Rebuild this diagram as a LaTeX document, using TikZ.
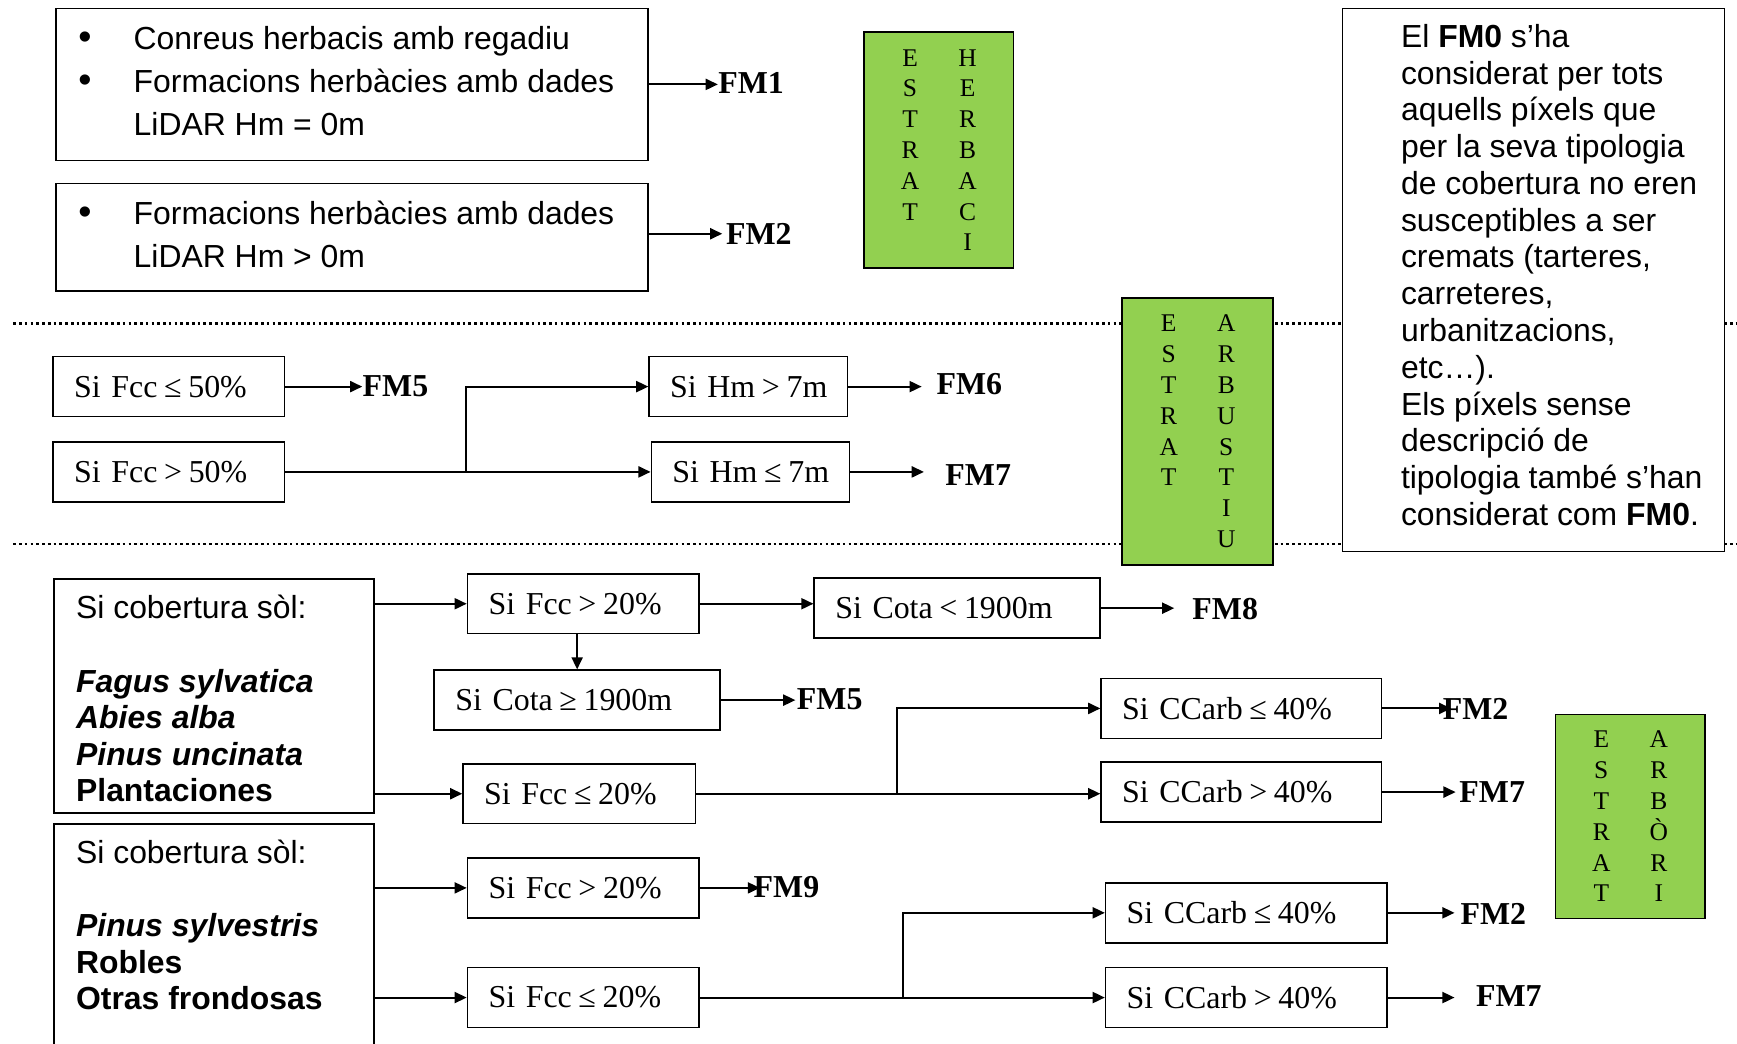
\documentclass[tikz,border=0pt]{standalone}
\usepackage{fontspec}
\setmainfont{Liberation Serif}
\newfontfamily\arialf{Liberation Sans}
\usetikzlibrary{arrows.meta}
\definecolor{grn}{RGB}{146,208,80}
\tikzset{
  cond/.style={draw, line width=0.7pt, inner xsep=9.5pt, inner ysep=0pt, minimum height=27pt, align=left, font=\fontsize{14.4}{17}\selectfont},
  fm/.style={anchor=west, inner sep=0pt, font=\fontsize{14.4}{17}\selectfont\bfseries},
  arr/.style={line width=0.9pt, -{Triangle[length=5.5pt,width=5pt]}},
  ln/.style={line width=0.9pt},
  textbox/.style={draw, line width=0.7pt, inner sep=0pt, anchor=north west, font=\arialf},
  strat/.style={draw, line width=0.7pt, fill=grn, align=center, inner sep=0pt, font=\fontsize{11.5}{13.9}\selectfont},
  dotsep/.style={line width=1.2pt, dash pattern=on 1.2pt off 1.4pt},
}
\newcommand{\lt}[2]{\makebox[10pt]{#1}\hspace{16pt}\makebox[10pt]{#2}}
\newcommand{\rel}[1]{\hspace{3pt}#1\hspace{3pt}}
\newcommand{\bul}{\makebox[25pt][l]{\fontsize{17}{17}\selectfont•}}
\begin{document}
\begin{tikzpicture}[x=0.5pt,y=-0.5pt]
\useasboundingbox (0,0) rectangle (1568,942);
\clip (0,0) rectangle (1568,942);
\fill[white] (0,0) rectangle (1568,942);

% separators
\draw[dotsep] (12,292) -- (1568,292);
\draw[dotsep] (12,491) -- (1568,491);

% herbaceous stratum
\node[textbox] (A1) at (50,7) {\parbox[t][68.5pt][t]{267pt}{\fontsize{14.4}{19.5}\selectfont\leftskip=10pt\rule{0pt}{18.5pt}\bul Conreus herbacis amb regadiu\\ \bul Formacions herbàcies amb dades\\ \hspace*{25pt}LiDAR Hm = 0m}};
\node[textbox] (A2) at (50,165) {\parbox[t][48.5pt][t]{267pt}{\fontsize{14.4}{19.5}\selectfont\leftskip=10pt\rule{0pt}{18.5pt}\bul Formacions herbàcies amb dades\\ \hspace*{25pt}LiDAR Hm > 0m}};
\node[fm] (fm1) at (648,75) {FM1};
\draw[arr] (A1.east) -- (A1.east -| fm1.west);
\node[fm] (fm2a) at (655,211) {FM2};
\draw[arr, shorten >=1.5pt] (A2.east |- fm2a.west) -- (fm2a.west);
\node[strat, minimum width=67.5pt, minimum height=106.5pt] (G1) at (847.5,135.5) {\lt{E}{H}\\ \lt{S}{E}\\ \lt{T}{R}\\ \lt{R}{B}\\ \lt{A}{A}\\ \lt{T}{C}\\ \lt{}{I}};

% shrub stratum
\node[cond, text width=85.5pt] (B1) at (152.5,349) {\mbox{Si Fcc\rel{≤}50\%}};
\node[cond, text width=85.5pt] (B2) at (152.5,426) {\mbox{Si Fcc\rel{>}50\%}};
\node[cond, text width=70.5pt] (B3) at (675.5,349) {\mbox{Si Hm\rel{>}7m}};
\node[cond, text width=70.5pt] (B4) at (677.5,426) {\mbox{Si Hm\rel{≤}7m}};
\node[fm] (fm5a) at (327,349) {FM5};
\draw[arr] (B1.east) -- (B1.east -| fm5a.west);
\coordinate (j1) at (421,426);
\draw[ln] (B2.east) -- (j1);
\draw[arr] (j1) |- (B3.west);
\draw[arr] (j1) -- (j1 -| B4.west);
\node[fm] (fm6) at (845,347) {FM6};
\draw[arr, shorten >=6.5pt] (B3.east) -- (B3.east -| fm6.west);
\node[fm] (fm7a) at (853,429) {FM7};
\draw[arr, shorten >=9.5pt] (B4.east) -- (B4.east -| fm7a.west);
\node[strat, minimum width=68pt, minimum height=120.5pt] (G2) at (1081,389.5) {\lt{E}{A}\\ \lt{S}{R}\\ \lt{T}{B}\\ \lt{R}{U}\\ \lt{A}{S}\\ \lt{T}{T}\\ \lt{}{I}\\ \lt{}{U}};

% note box
\node[textbox, fill=white] (R) at (1211,7) {\parbox[t][245pt][t]{172.5pt}{\fontsize{14.4}{16.6}\selectfont\leftskip=26.5pt\rule{0pt}{17.5pt}El \textbf{FM0} s’ha\\ considerat per tots\\ aquells píxels que\\ per la seva tipologia\\ de cobertura no eren\\ susceptibles a ser\\ cremats (tarteres,\\ carreteres,\\ urbanitzacions,\\ etc…).\\ Els píxels sense\\ descripció de\\ tipologia també s’han\\ considerat com \textbf{FM0}.}};

% tree stratum
\node[textbox] (C1) at (48,522) {\parbox[t][105.5pt][t]{144.5pt}{\fontsize{14.4}{16.5}\selectfont\leftskip=10pt\rule{0pt}{18pt}Si cobertura sòl:\\ \mbox{}\\ \textbf{\textit{Fagus sylvatica}}\\ \textbf{\textit{Abies alba}}\\ \textbf{\textit{Pinus uncinata}}\\ \textbf{Plantaciones}}};
\node[textbox] (C2) at (48,743) {\parbox[t][128.5pt][t]{144.5pt}{\fontsize{14.4}{16.5}\selectfont\leftskip=10pt\rule{0pt}{18pt}Si cobertura sòl:\\ \mbox{}\\ \textbf{\textit{Pinus sylvestris}}\\ \textbf{Robles}\\ \textbf{Otras frondosas}}};

\node[cond, text width=85.5pt] (D1) at (526.5,545) {\mbox{Si Fcc\rel{>}20\%}};
\node[cond, text width=110pt] (D2) at (864,549) {\mbox{Si Cota\rel{<}1900m}};
\node[cond, text width=110pt] (D3) at (521,632) {\mbox{Si Cota\rel{≥}1900m}};
\node[cond, text width=86pt] (D4) at (523,716.5) {\mbox{Si Fcc\rel{≤}20\%}};
\node[cond, text width=107.5pt] (D5) at (1120.5,639.5) {\mbox{Si CCarb\rel{≤}40\%}};
\node[cond, text width=107.5pt] (D6) at (1120.5,715) {\mbox{Si CCarb\rel{>}40\%}};
\node[cond, text width=85.5pt] (D7) at (526.5,801.5) {\mbox{Si Fcc\rel{>}20\%}};
\node[cond, text width=85.5pt] (D8) at (526.5,900.5) {\mbox{Si Fcc\rel{≤}20\%}};
\node[cond, text width=108pt] (D9) at (1125,824) {\mbox{Si CCarb\rel{≤}40\%}};
\node[cond, text width=108pt] (D10) at (1125,900.5) {\mbox{Si CCarb\rel{>}40\%}};

\draw[arr] (C1.east |- D1.west) -- (D1.west);
\draw[arr] (D1.east) -- (D1.east -| D2.west);
\node[fm] (fm8) at (1076,550) {FM8};
\draw[arr, shorten >=8pt] (D2.east) -- (D2.east -| fm8.west);
\draw[arr] (D3.north |- D1.south) -- (D3.north);
\node[fm] (fm5b) at (719,631) {FM5};
\draw[arr, shorten >=0.5pt] (D3.east) -- (D3.east -| fm5b.west);
\draw[arr] (C1.east |- D4.west) -- (D4.west);
\coordinate (j2) at (810,716.5);
\draw[ln] (D4.east) -- (j2);
\draw[arr] (j2) |- (D5.west);
\draw[arr] (j2) -- (j2 -| D6.west);
\node[fm] (fm2b) at (1302,640) {FM2};
\draw[arr, shorten >=-4pt] (D5.east) -- (D5.east -| fm2b.west);
\node[fm] (fm7b) at (1317,715) {FM7};
\draw[arr, shorten >=1.5pt] (D6.east) -- (D6.east -| fm7b.west);
\node[strat, minimum width=67.5pt, minimum height=92pt] (G3) at (1471.5,737) {\lt{E}{A}\\ \lt{S}{R}\\ \lt{T}{B}\\ \lt{R}{Ò}\\ \lt{A}{R}\\ \lt{T}{I}};

\draw[arr] (C2.east |- D7.west) -- (D7.west);
\node[fm] (fm9) at (680,801) {FM9};
\draw[arr, shorten >=-3pt] (D7.east) -- (D7.east -| fm9.west);
\draw[arr] (C2.east |- D8.west) -- (D8.west);
\coordinate (j3) at (815,900.5);
\draw[ln] (D8.east) -- (j3);
\draw[arr] (j3) |- (D9.west);
\draw[arr] (j3) -- (j3 -| D10.west);
\node[fm] (fm2c) at (1318,825) {FM2};
\draw[arr, shorten >=2.5pt] (D9.east) -- (D9.east -| fm2c.west);
\node[fm] (fm7c) at (1332,899) {FM7};
\draw[arr, shorten >=9.5pt] (D10.east) -- (D10.east -| fm7c.west);
\end{tikzpicture}
\end{document}
